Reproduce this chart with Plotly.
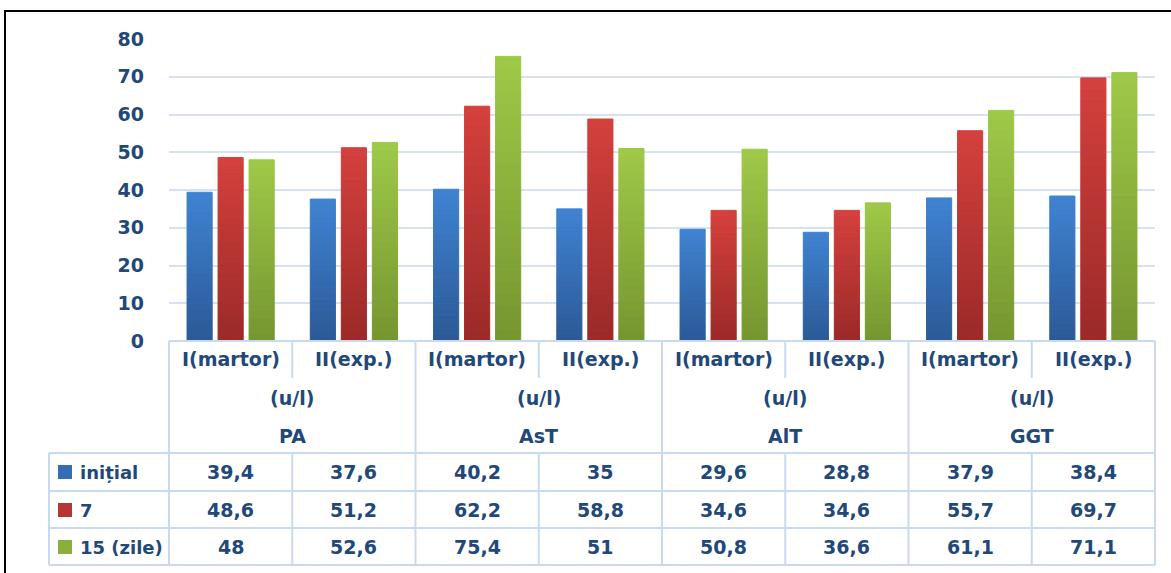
import plotly.graph_objs as go

# ---------------- Data ---------------- #
groups = ['PA', 'AsT', 'AlT', 'GGT']
subgroups = ['I(martor)', 'II(exp.)']
unit = '(u/l)'
y_ticks = [0, 10, 20, 30, 40, 50, 60, 70, 80]

initial = [39.4, 37.6, 40.2, 35, 29.6, 28.8, 37.9, 38.4]
day7 = [48.6, 51.2, 62.2, 58.8, 34.6, 34.6, 55.7, 69.7]
day15 = [48, 52.6, 75.4, 51, 50.8, 36.6, 61.1, 71.1]
series_names = ['inițial', '7', '15 (zile)']

# ---------------- Styles ---------------- #
W, H = 1171, 573
M_L, M_R, M_T, M_B = 169, 16, 39, 232
TEXT = '#214879'
GRID = '#d6e2f1'
FONT = 'DejaVu Sans'
# (top colour, bottom colour) for the gradient look
colors = [('#3f83d2', '#2b5996'), ('#d4403d', '#9a2a28'), ('#9fc948', '#759530')]
N_STEPS = 24

n_cat = len(initial)
x_pos = list(range(n_cat))
plot_w = W - M_L - M_R
plot_h = H - M_T - M_B


def px(x):
    return (x - M_L) / plot_w


def py(y):
    return (H - M_B - y) / plot_h


def mix(c1, c2, t):
    a = [int(c1[i:i + 2], 16) for i in (1, 3, 5)]
    b = [int(c2[i:i + 2], 16) for i in (1, 3, 5)]
    return 'rgb(%d,%d,%d)' % tuple(round(a[j] + (b[j] - a[j]) * t) for j in range(3))


def fmt(v):
    return f'{v:g}'.replace('.', ',')


# ---------------- Figure ---------------- #
fig = go.Figure()

all_series = [initial, day7, day15]
for s, vals in enumerate(all_series):
    top, bot = colors[s]
    # stacked slices inside one offset group give a vertical gradient
    for k in range(N_STEPS):
        c = mix(bot, top, (k + 0.5) / N_STEPS)
        fig.add_trace(go.Bar(
            x=x_pos,
            y=[v / N_STEPS for v in vals],
            offsetgroup=str(s),
            marker=dict(color=c, line=dict(width=1, color=c)),
            showlegend=False,
            hoverinfo='skip'
        ))

shapes = []
ann = []
line = dict(color='#c9daef', width=2)

# outer frame
shapes.append(dict(type='rect', xref='paper', yref='paper', x0=px(5), x1=px(1190),
                   y0=py(11), y1=py(600), line=dict(color='black', width=2)))

# table rows (pixel rows of the data table)
y_head_top, y_sub_bot, y_head_bot = 341, 378, 453
row_lines = [453, 491, 528, 565]
row_mid = [472, 510, 547]

# horizontal lines
shapes.append(dict(type='line', xref='paper', yref='paper', x0=0, x1=1,
                   y0=py(y_head_top), y1=py(y_head_top), line=line))
for r in row_lines:
    shapes.append(dict(type='line', xref='paper', yref='paper', x0=px(49), x1=1,
                       y0=py(r), y1=py(r), line=line))
shapes.append(dict(type='line', xref='paper', yref='paper', x0=px(49), x1=px(49),
                   y0=py(row_lines[0]), y1=py(row_lines[-1]), line=line))

# vertical lines at category boundaries
for i in range(n_cat + 1):
    xb = i / n_cat
    if i % 2 == 0:
        shapes.append(dict(type='line', xref='paper', yref='paper', x0=xb, x1=xb,
                           y0=py(y_head_top), y1=py(row_lines[-1]), line=line))
    else:
        shapes.append(dict(type='line', xref='paper', yref='paper', x0=xb, x1=xb,
                           y0=py(y_head_top), y1=py(y_sub_bot), line=line))
        shapes.append(dict(type='line', xref='paper', yref='paper', x0=xb, x1=xb,
                           y0=py(y_head_bot), y1=py(row_lines[-1]), line=line))

tfont = dict(family=FONT, size=19, color=TEXT, weight='bold')

# header texts
for i in range(n_cat):
    ann.append(dict(x=(i + 0.5) / n_cat, y=py(359), text=subgroups[i % 2]))
for g, name in enumerate(groups):
    xc = (2 * g + 1) / n_cat
    ann.append(dict(x=xc, y=py(398), text=unit))
    ann.append(dict(x=xc, y=py(436), text=name))

# value rows + legend keys
for r, vals in enumerate(all_series):
    for i, v in enumerate(vals):
        ann.append(dict(x=(i + 0.5) / n_cat, y=py(row_mid[r]), text=fmt(v)))
    ann.append(dict(x=px(78), y=py(row_mid[r]), text=series_names[r], xanchor='left',
                    font=dict(tfont, size=18)))
    top, bot = colors[r]
    shapes.append(dict(type='rect', xref='paper', yref='paper', x0=px(58), x1=px(72),
                       y0=py(row_mid[r] + 7), y1=py(row_mid[r] - 7),
                       fillcolor=mix(bot, top, 0.5), line=dict(width=0)))

for a in ann:
    a.update(xref='paper', yref='paper', showarrow=False)
    a.setdefault('font', tfont)
    a.setdefault('xanchor', 'center')
    a['yanchor'] = 'middle'

fig.update_layout(
    width=W, height=H,
    margin=dict(l=M_L, r=M_R, t=M_T, b=M_B),
    paper_bgcolor='white', plot_bgcolor='white',
    barmode='relative', bargap=0.245, bargroupgap=0.19,
    shapes=shapes, annotations=ann,
    xaxis=dict(range=[-0.5, n_cat - 0.5], showticklabels=False, showgrid=False,
               zeroline=False, ticks=''),
    yaxis=dict(range=[0, 80], tickvals=y_ticks, showgrid=True, gridcolor=GRID, gridwidth=2,
               zeroline=False, ticks='', ticklabelstandoff=24,
               tickfont=dict(family=FONT, size=19, color=TEXT, weight='bold')),
)

# page body margin off so the chart sits at the window's top-left corner
fig.write_html("out.html", config={'displayModeBar': False},
               post_script="document.body.style.margin='0';")
